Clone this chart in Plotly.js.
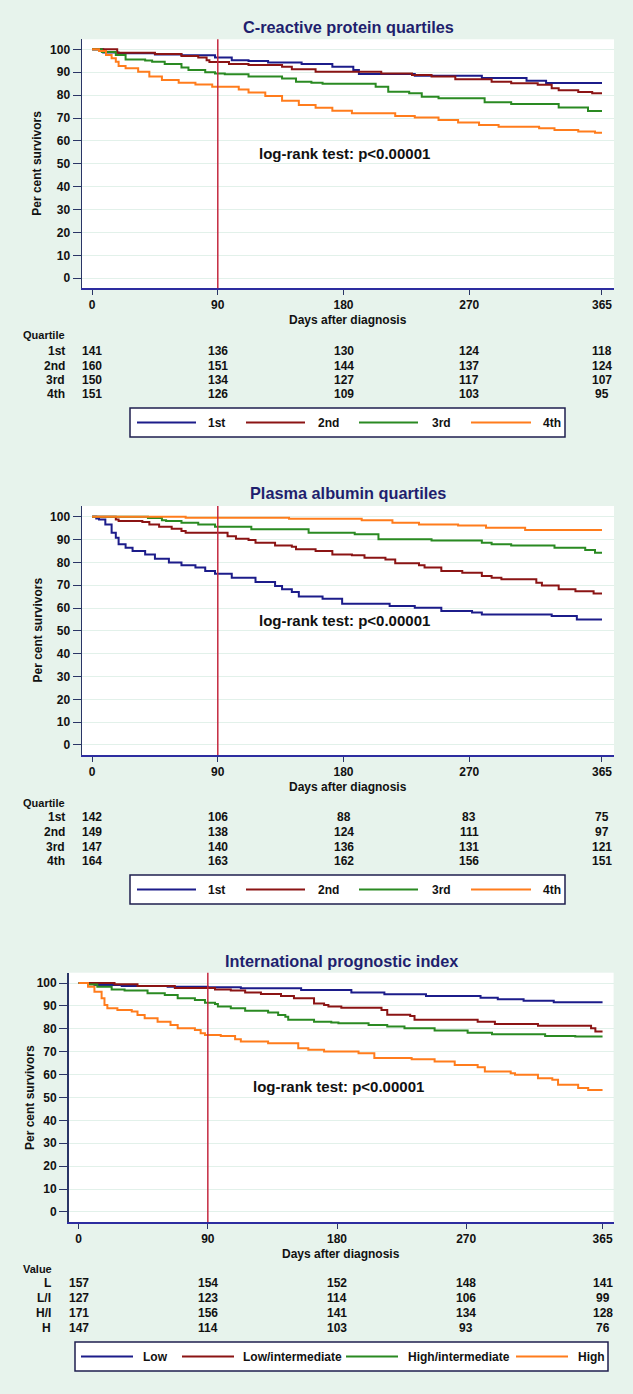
<!DOCTYPE html>
<html>
<head>
<meta charset="utf-8">
<script src="https://cdn.plot.ly/plotly-3.0.1.min.js"></script>
<style>
html,body{margin:0;padding:0;background:#e7f3ec;}
#chart{width:633px;height:1394px;}
</style>
</head>
<body>
<div id="chart"></div>
<script>
// ---------------- DATA ----------------
const riskDays = [0, 90, 180, 270, 365];
const yTicks = [0, 10, 20, 30, 40, 50, 60, 70, 80, 90, 100];
const landmarkDay = 90;

// Panel 1: C-reactive protein quartiles
const crpNames = ["1st", "2nd", "3rd", "4th"];
const crpQ1Days = [0, 8, 19, 45, 64, 88, 100, 112, 126, 150, 172, 187, 191, 231, 279, 311, 325, 365];
const crpQ1Surv = [100, 98.6, 98.3, 97.8, 97.4, 96.5, 95.3, 94.9, 94.3, 93.6, 92.4, 91.0, 89.2, 88.5, 87.5, 86.3, 85.3, 85.3];
const crpQ2Days = [0, 18, 45, 64, 76, 82, 84, 98, 112, 136, 143, 160, 207, 229, 243, 260, 286, 300, 319, 329, 334, 348, 358, 365];
const crpQ2Surv = [100, 98.5, 98.0, 97.1, 96.4, 95.3, 94.5, 93.6, 93.2, 92.4, 91.3, 90.2, 89.5, 88.8, 88.1, 86.9, 85.9, 85.2, 84.5, 83.0, 82.1, 81.4, 80.8, 80.8];
const crpQ3Days = [0, 7, 17, 24, 38, 43, 52, 64, 69, 81, 88, 95, 112, 136, 146, 157, 165, 203, 212, 227, 236, 248, 281, 300, 334, 355, 365];
const crpQ3Surv = [100, 98.8, 97.5, 95.6, 95.1, 94.6, 93.6, 92.1, 91.0, 90.0, 89.5, 89.1, 88.1, 87.3, 85.9, 85.4, 85.0, 83.7, 81.5, 80.8, 79.3, 78.6, 76.9, 76.1, 74.6, 73.1, 73.1];
const crpQ4Days = [0, 5, 10, 14, 17, 19, 24, 33, 41, 50, 62, 74, 86, 105, 112, 124, 136, 148, 160, 172, 186, 217, 231, 248, 262, 277, 291, 320, 331, 348, 360, 365];
const crpQ4Surv = [100, 99.3, 97.5, 96.1, 94.6, 92.7, 91.7, 90.2, 88.1, 86.6, 85.4, 84.7, 83.7, 82.5, 81.1, 79.6, 77.6, 75.7, 74.5, 73.2, 72.1, 70.9, 70.2, 69.1, 68.1, 67.0, 66.2, 65.5, 64.8, 64.1, 63.6, 63.6];
const crpRisk1 = [141, 136, 130, 124, 118];
const crpRisk2 = [160, 151, 144, 137, 124];
const crpRisk3 = [150, 134, 127, 117, 107];
const crpRisk4 = [151, 126, 109, 103, 95];

// Panel 2: Plasma albumin quartiles
const albNames = ["1st", "2nd", "3rd", "4th"];
const albQ1Days = [0, 3, 5, 9.5, 14, 17, 19, 24, 29, 38, 45, 55, 64, 74, 81, 88, 100, 117, 131, 136, 143, 148, 165, 179, 213, 231, 250, 272, 279, 329, 347, 365];
const albQ1Surv = [100, 99.2, 98.8, 96.6, 93.0, 90.8, 87.9, 86.4, 85.0, 83.5, 81.6, 79.9, 78.7, 77.7, 76.2, 75.0, 73.3, 71.4, 69.6, 68.2, 67.0, 65.0, 64.1, 61.9, 60.9, 60.1, 58.7, 58.0, 57.2, 56.5, 55.0, 55.0];
const albQ2Days = [0, 17, 19, 36, 41, 48, 57, 64, 67, 97, 103, 112, 117, 131, 143, 146, 160, 172, 186, 195, 210, 217, 234, 238, 250, 265, 279, 286, 293, 318, 322, 334, 346, 359, 365];
const albQ2Surv = [100, 98.8, 98.1, 97.7, 96.6, 95.6, 94.7, 93.7, 93.0, 91.5, 90.4, 89.8, 88.6, 87.4, 86.9, 85.7, 85.0, 83.5, 83.1, 82.0, 81.3, 79.6, 78.7, 77.7, 76.2, 75.5, 74.0, 73.3, 72.6, 71.1, 69.9, 68.2, 67.4, 66.4, 66.4];
const albQ3Days = [0, 40, 50, 53, 64, 76, 88, 114, 155, 188, 205, 243, 279, 286, 300, 331, 353, 360, 365];
const albQ3Surv = [100, 99.4, 98.5, 98.1, 97.4, 96.6, 95.6, 94.5, 93.0, 92.3, 90.1, 89.6, 88.6, 87.9, 87.4, 86.4, 85.4, 84.2, 84.2];
const albQ4Days = [0, 67, 141, 193, 215, 234, 262, 282, 310, 365];
const albQ4Surv = [100, 99.6, 99.1, 98.5, 97.4, 96.6, 96.2, 95.2, 94.2, 94.2];
const albRisk1 = [142, 106, 88, 83, 75];
const albRisk2 = [149, 138, 124, 111, 97];
const albRisk3 = [147, 140, 136, 131, 121];
const albRisk4 = [164, 163, 162, 156, 151];

// Panel 3: International prognostic index
const ipiNames = ["Low", "Low/intermediate", "High/intermediate", "High"];
const ipiLDays = [0, 11, 30, 62, 90, 113, 155, 190, 213, 242, 280, 292, 310, 331, 365];
const ipiLSurv = [100, 99.1, 98.7, 98.4, 98.1, 97.7, 96.9, 95.8, 95.1, 94.3, 93.6, 92.9, 92.3, 91.6, 91.6];
const ipiLIDays = [0, 25, 41, 67, 95, 106, 116, 127, 141, 150, 164, 171, 174, 183, 211, 215, 231, 234, 278, 290, 320, 357, 360, 365];
const ipiLISurv = [100, 99.5, 98.7, 97.8, 97.2, 96.7, 95.8, 95.2, 94.3, 93.3, 91.1, 90.4, 89.7, 89.2, 88.2, 86.1, 85.6, 83.9, 83.1, 82.1, 81.3, 80.2, 78.8, 78.8];
const ipiHIDays = [0, 6.5, 13, 23, 32, 48, 60, 69, 81, 88, 95, 97, 106, 116, 132, 139, 144, 146, 164, 176, 181, 202, 215, 227, 248, 271, 288, 325, 346, 365];
const ipiHISurv = [100, 99.4, 98.4, 97.2, 96.7, 95.5, 94.8, 93.3, 92.6, 91.4, 90.8, 89.7, 89.0, 87.9, 87.1, 86.0, 85.3, 83.9, 83.1, 82.7, 82.4, 81.7, 81.0, 80.2, 79.2, 78.3, 77.6, 76.9, 76.6, 76.6];
const ipiHDays = [0, 6.5, 11, 16, 18, 20, 27, 37, 41, 46, 55, 64, 69, 81, 85, 88, 99, 109, 113, 132, 153, 160, 171, 195, 206, 232, 248, 262, 278, 283, 301, 304, 320, 330, 334, 348, 355, 365];
const ipiHSurv = [100, 98.4, 96.2, 93.3, 90.4, 89.0, 88.2, 87.5, 86.0, 84.6, 83.1, 81.7, 80.2, 79.5, 78.1, 77.3, 76.9, 75.4, 74.4, 73.7, 71.5, 70.8, 70.1, 69.3, 67.2, 66.7, 65.7, 64.2, 63.2, 61.3, 60.6, 59.9, 58.4, 57.7, 55.5, 54.1, 53.3, 53.3];
const ipiRiskL = [157, 154, 152, 148, 141];
const ipiRiskLI = [127, 123, 114, 106, 99];
const ipiRiskHI = [171, 156, 141, 134, 128];
const ipiRiskH = [147, 114, 103, 93, 76];

// ---------------- STYLE / LAYOUT ----------------
const W = 633, H = 1394;
const px = v => v / W;
const py = v => 1 - v / H;
const FONT = "Liberation Sans, Arial, Helvetica, sans-serif";
const colors = ["#1c1c8a", "#8b1414", "#2a8a22", "#ff7c1c"];
const navy = "#1f1f6e";
const axisColor = "#2a3566";
const txt = (size, color) => ({family: FONT, size: size, color: color || "#111111", weight: "bold"});

const panels = [
  {
    title: "C-reactive protein quartiles", names: crpNames,
    curves: [[crpQ1Days, crpQ1Surv], [crpQ2Days, crpQ2Surv], [crpQ3Days, crpQ3Surv], [crpQ4Days, crpQ4Surv]],
    risk: [crpRisk1, crpRisk2, crpRisk3, crpRisk4], rowLabels: crpNames, header: "Quartile",
    xl: 82, xr: 614, yt: 39.3, yb: 288.3, xrange: [-7.2, 373.6], yrange: [-4.4, 104.4],
    titleY: 27, ytitleX: 37, xtitleY: 319.5, headerY: 335, rowsY: [350.7, 365.7, 380, 394.3], rowLabelX: 66.6,
    leg: {x0: 130, x1: 565, y0: 408, y1: 437, lines: [[137, 196], [246, 305], [359, 418], [471, 531]], textX: [206, 316, 430, 541]},
    logrankX: 118, logrankY: 54.3
  },
  {
    title: "Plasma albumin quartiles", names: albNames,
    curves: [[albQ1Days, albQ1Surv], [albQ2Days, albQ2Surv], [albQ3Days, albQ3Surv], [albQ4Days, albQ4Surv]],
    risk: [albRisk1, albRisk2, albRisk3, albRisk4], rowLabels: albNames, header: "Quartile",
    xl: 82, xr: 614, yt: 506, yb: 755, xrange: [-7.2, 373.6], yrange: [-4.4, 104.7],
    titleY: 493, ytitleX: 37, xtitleY: 786.5, headerY: 803.3, rowsY: [817.3, 832.3, 846.7, 861], rowLabelX: 66.6,
    leg: {x0: 130, x1: 565, y0: 875, y1: 904, lines: [[137, 196], [246, 305], [359, 418], [471, 531]], textX: [206, 316, 430, 541]},
    logrankX: 118, logrankY: 54.7
  },
  {
    title: "International prognostic index", names: ipiNames,
    curves: [[ipiLDays, ipiLSurv], [ipiLIDays, ipiLISurv], [ipiHIDays, ipiHISurv], [ipiHDays, ipiHSurv]],
    risk: [ipiRiskL, ipiRiskLI, ipiRiskHI, ipiRiskH], rowLabels: ["L", "L/I", "H/I", "H"], header: "Value",
    xl: 68.6, xr: 613.6, yt: 972.7, yb: 1222, xrange: [-7, 372.7], yrange: [-4.4, 104.5],
    titleY: 961, ytitleX: 30.7, xtitleY: 1253.5, headerY: 1269.3, rowsY: [1283.3, 1298.3, 1313.3, 1328.3], rowLabelX: 52.5,
    leg: {x0: 75, x1: 608, y0: 1342, y1: 1371, lines: [[81, 133], [182, 234], [346, 398], [516, 568]], textX: [141, 241, 406, 576]},
    logrankX: 120, logrankY: 54.6
  }
];

const data = [];
const layout = {
  width: W, height: H,
  margin: {l: 0, r: 0, t: 0, b: 0, pad: 0},
  paper_bgcolor: "#e7f3ec",
  plot_bgcolor: "#ffffff",
  font: txt(12),
  showlegend: false,
  shapes: [], annotations: []
};

panels.forEach((p, i) => {
  const sfx = i === 0 ? "" : String(i + 1);
  const xa = "x" + sfx, ya = "y" + sfx;
  p.curves.forEach((c, k) => {
    data.push({
      type: "scatter", mode: "lines", x: c[0], y: c[1], name: p.names[k],
      line: {color: colors[k], width: 2, shape: "hv"},
      xaxis: xa, yaxis: ya, hoverinfo: "skip", showlegend: false
    });
  });
  layout["xaxis" + sfx] = {
    domain: [px(p.xl), px(p.xr)], range: p.xrange, anchor: ya,
    tickmode: "array", tickvals: riskDays, ticktext: riskDays.map(String),
    ticks: "outside", ticklen: 5, tickwidth: 1, tickcolor: axisColor,
    showline: true, linecolor: "#2d2da0", linewidth: 1.5,
    showgrid: false, zeroline: false, fixedrange: true,
    tickfont: txt(12)
  };
  layout["yaxis" + sfx] = {
    domain: [py(p.yb), py(p.yt)], range: p.yrange, anchor: xa,
    tickmode: "array", tickvals: yTicks,
    ticks: "outside", ticklen: 8, tickwidth: 1, tickcolor: axisColor,
    showline: true, linecolor: axisColor, linewidth: 1.5,
    showgrid: true, gridcolor: "#e2f1ea", gridwidth: 1, zeroline: false, fixedrange: true,
    tickfont: txt(12)
  };
  // landmark line at day 90
  layout.shapes.push({
    type: "line", xref: xa, x0: landmarkDay, x1: landmarkDay,
    yref: ya + " domain", y0: 0, y1: 1, line: {color: "#c42a40", width: 1.5}
  });
  // legend box (drawn)
  const L = p.leg;
  layout.shapes.push({
    type: "rect", xref: "paper", yref: "paper", x0: px(L.x0), x1: px(L.x1), y0: py(L.y1), y1: py(L.y0),
    fillcolor: "#ffffff", line: {color: "#1f1f4f", width: 1.5}
  });
  const A = layout.annotations;
  const yc = (L.y0 + L.y1) / 2;
  p.names.forEach((nm, k) => {
    layout.shapes.push({
      type: "line", xref: "paper", yref: "paper", x0: px(L.lines[k][0]), x1: px(L.lines[k][1]),
      y0: py(yc), y1: py(yc), line: {color: colors[k], width: 2}
    });
    A.push({text: nm, xref: "paper", yref: "paper", x: px(L.textX[k]), y: py(yc),
      xanchor: "left", yanchor: "middle", showarrow: false, font: txt(12)});
  });
  A.push({text: p.title, xref: "paper", yref: "paper", x: px((p.xl + p.xr) / 2), y: py(p.titleY),
    xanchor: "center", yanchor: "middle", showarrow: false, font: txt(16.3, navy)});
  A.push({text: "Per cent survivors", xref: "paper", yref: "paper", x: px(p.ytitleX), y: py((p.yt + p.yb) / 2),
    xanchor: "center", yanchor: "middle", textangle: -90, showarrow: false, font: txt(12)});
  A.push({text: "Days after diagnosis", xref: "paper", yref: "paper", x: px((p.xl + p.xr) / 2), y: py(p.xtitleY),
    xanchor: "center", yanchor: "middle", showarrow: false, font: txt(12)});
  A.push({text: "log-rank test: p<0.00001", xref: xa, yref: ya, x: p.logrankX, y: p.logrankY,
    xanchor: "left", yanchor: "middle", showarrow: false, font: txt(15)});
  A.push({text: p.header, xref: "paper", yref: "paper", x: px(21), y: py(p.headerY),
    xanchor: "left", yanchor: "middle", showarrow: false, font: txt(11)});
  p.risk.forEach((row, r) => {
    A.push({text: p.rowLabels[r], xref: "paper", yref: "paper", x: px(p.rowLabelX), y: py(p.rowsY[r]),
      xanchor: "right", yanchor: "middle", showarrow: false, font: txt(12)});
    row.forEach((v, c) => {
      A.push({text: String(v), xref: xa, yref: "paper", x: riskDays[c], y: py(p.rowsY[r]),
        xanchor: "center", yanchor: "middle", showarrow: false, font: txt(12)});
    });
  });
});

Plotly.newPlot("chart", data, layout, {displayModeBar: false, staticPlot: true});
</script>
</body>
</html>
